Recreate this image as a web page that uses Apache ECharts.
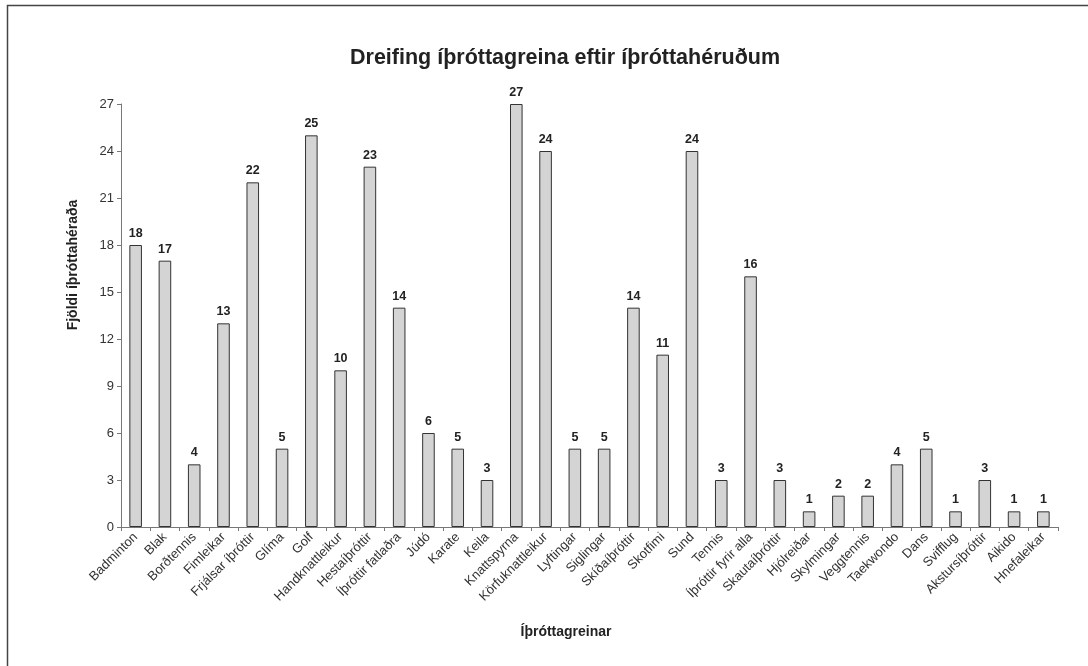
<!DOCTYPE html>
<html>
<head>
<meta charset="utf-8">
<script src="https://cdn.jsdelivr.net/npm/echarts@6/dist/echarts.min.js"></script>
<style>
html,body{margin:0;padding:0;background:#fff;}
#chart{width:1088px;height:666px;}
</style>
</head>
<body>
<div id="chart"></div>
<script>
const categories = ["Badminton","Blak","Borðtennis","Fimleikar","Frjálsar íþróttir","Glíma","Golf","Handknattleikur","Hestaíþróttir","Íþróttir fatlaðra","Júdó","Karate","Keila","Knattspyrna","Körfuknattleikur","Lyftingar","Siglingar","Skíðaíþróttir","Skotfimi","Sund","Tennis","Íþróttir fyrir alla","Skautaíþróttir","Hjólreiðar","Skylmingar","Veggtennis","Taekwondo","Dans","Svifflug","Akstursíþróttir","Aikido","Hnefaleikar"];
const values = [18,17,4,13,22,5,25,10,23,14,6,5,3,27,24,5,5,14,11,24,3,16,3,1,2,2,4,5,1,3,1,1];
const titleText = "Dreifing íþróttagreina eftir íþróttahéruðum";
const xAxisName = "Íþróttagreinar";
const yAxisName = "Fjöldi íþróttahéraða";

const FF = "'Liberation Sans', Arial, sans-serif";
const chart = echarts.init(document.getElementById('chart'), null, {renderer:'canvas'});
chart.setOption({
  backgroundColor:'#fff',
  animation:false,
  graphic:[
    {
      type:'rect', silent:true,
      shape:{x:7.5,y:5.5,width:1200,height:800},
      style:{fill:'none',stroke:'#444',lineWidth:1.5}
    },
    {
      type:'text', silent:true, x:565, y:58,
      style:{text:titleText,font:"bold 21.5px 'Liberation Sans', Arial, sans-serif",fill:'#222',align:'center',verticalAlign:'middle'}
    },
    {
      type:'text', silent:true, x:566, y:632,
      style:{text:xAxisName,font:"bold 14px 'Liberation Sans', Arial, sans-serif",fill:'#222',align:'center',verticalAlign:'middle'}
    },
    {
      type:'text', silent:true, x:73.5, y:265, rotation:Math.PI/2,
      style:{text:yAxisName,font:"bold 14px 'Liberation Sans', Arial, sans-serif",fill:'#222',align:'center',verticalAlign:'middle'}
    }
  ],
  grid:{left:121,top:104,width:937,height:423,containLabel:false},
  xAxis:{
    type:'category', data:categories,
    axisLine:{lineStyle:{color:'#777',width:1}},
    axisTick:{show:true,alignWithLabel:false,length:4,lineStyle:{color:'#777'}},
    axisLabel:{rotate:45,interval:0,fontFamily:FF,fontSize:13,color:'#333',margin:8}
  },
  yAxis:{
    type:'value', min:0, max:27, interval:3,
    axisLine:{show:true,lineStyle:{color:'#777',width:1}},
    axisTick:{show:true,length:4,lineStyle:{color:'#777'}},
    axisLabel:{fontFamily:FF,fontSize:13,color:'#333',margin:7},
    splitLine:{show:false}
  },
  series:[{
    type:'bar', data:values, barWidth:'43%',
    itemStyle:{color:'#d4d4d4',borderColor:'#333',borderWidth:1},
    label:{show:true,position:'top',distance:5,fontFamily:FF,fontSize:12.5,fontWeight:'bold',color:'#222'}
  }]
});
</script>
</body>
</html>
